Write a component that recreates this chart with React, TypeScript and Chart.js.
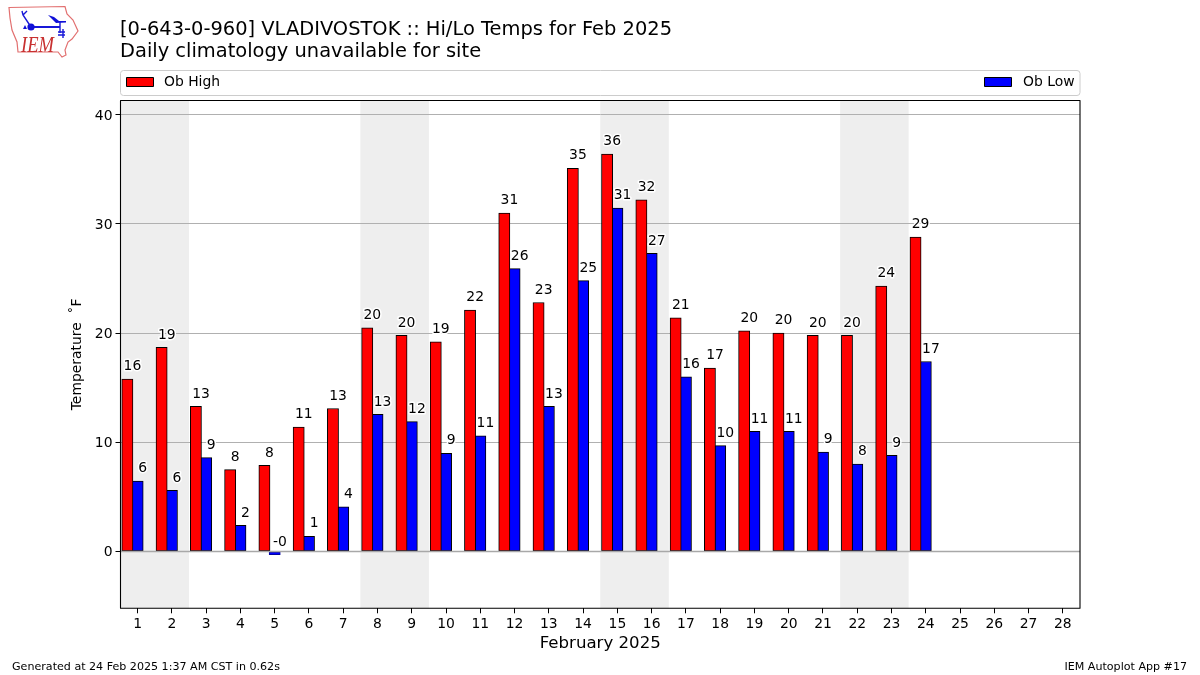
import React, { useEffect, useRef } from "react";
import { Chart, registerables } from "chart.js";

Chart.register(...registerables);

const days = [1, 2, 3, 4, 5, 6, 7, 8, 9, 10, 11, 12, 13, 14, 15, 16, 17, 18, 19, 20, 21, 22, 23, 24, 25, 26, 27, 28];
const obHigh = [15.8, 18.7, 13.3, 7.5, 7.9, 11.4, 13.1, 20.48, 19.8, 19.2, 22.1, 31.0, 22.8, 35.1, 36.4, 32.2, 21.4, 16.8, 20.2, 20.0, 19.8, 19.8, 24.3, 28.8];
const obLow = [6.45, 5.6, 8.6, 2.4, -0.3, 1.4, 4.1, 12.56, 11.9, 9.0, 10.6, 25.9, 13.3, 24.8, 31.46, 27.3, 16.0, 9.7, 11.0, 11.0, 9.1, 8.0, 8.8, 17.4];
const yTicks = [0, 10, 20, 30, 40];
const weekendBands = [[0.5, 2.5], [7.5, 9.5], [14.5, 16.5], [21.5, 23.5]];

const FONT = '"DejaVu Sans"';
const titleLine1 = "[0-643-0-960] VLADIVOSTOK :: Hi/Lo Temps for Feb 2025";
const titleLine2 = "Daily climatology unavailable for site";
const footerLeft = "Generated at 24 Feb 2025 1:37 AM CST in 0.62s";
const footerRight = "IEM Autoplot App #17";

const decorations = {
  id: "decorations",
  beforeDraw(chart: any) {
    const { ctx, chartArea: a, scales } = chart;
    ctx.save();
    ctx.fillStyle = "#eeeeee";
    for (const [from, to] of weekendBands) {
      const l = scales.x.getPixelForValue(from);
      const r = scales.x.getPixelForValue(to);
      ctx.fillRect(l, a.top, r - l, a.bottom - a.top);
    }
    ctx.restore();
  },
  afterDatasetsDraw(chart: any) {
    const { ctx, chartArea: a, scales } = chart;
    ctx.save();
    // Zero line sits over the bar bases
    const zero = scales.y.getPixelForValue(0);
    ctx.strokeStyle = "#a8a8a8";
    ctx.lineWidth = 1.6;
    ctx.beginPath();
    ctx.moveTo(a.left, zero);
    ctx.lineTo(a.right, zero);
    ctx.stroke();

    ctx.font = `13.9px ${FONT}`;
    ctx.textAlign = "center";
    ctx.textBaseline = "alphabetic";
    ctx.lineJoin = "round";
    chart.data.datasets.forEach((ds: any, i: number) => {
      chart.getDatasetMeta(i).data.forEach((bar: any, j: number) => {
        const v = ds.data[j].y;
        const text = v.toFixed(0);
        const x = bar.x + 5.1;
        const y = scales.y.getPixelForValue(v + 0.8);
        ctx.strokeStyle = "#ffffff";
        ctx.lineWidth = 3;
        ctx.strokeText(text, x, y);
        ctx.fillStyle = "#000000";
        ctx.fillText(text, x, y);
      });
    });
    ctx.strokeStyle = "#000000";
    ctx.lineWidth = 1.1;
    ctx.strokeRect(a.left, a.top, a.right - a.left, a.bottom - a.top);

    // Titles
    ctx.textAlign = "left";
    ctx.fillStyle = "#000000";
    ctx.font = `19.45px ${FONT}`;
    ctx.fillText(titleLine1, 120, 35);
    ctx.fillText(titleLine2, 120, 57);

    // Legend
    ctx.strokeStyle = "#cccccc";
    ctx.lineWidth = 1;
    ctx.beginPath();
    ctx.roundRect(120.5, 70.5, 959.5, 25, 3);
    ctx.fillStyle = "#ffffff";
    ctx.fill();
    ctx.stroke();
    const [hi, lo] = chart.data.datasets;
    ctx.font = `13.9px ${FONT}`;
    ctx.fillStyle = hi.backgroundColor;
    ctx.strokeStyle = "#000000";
    ctx.fillRect(126.5, 77.5, 27, 9);
    ctx.strokeRect(126.5, 77.5, 27, 9);
    ctx.fillStyle = "#000000";
    ctx.fillText(hi.label, 164, 86);
    ctx.fillStyle = lo.backgroundColor;
    ctx.fillRect(984.5, 77.5, 27, 9);
    ctx.strokeRect(984.5, 77.5, 27, 9);
    ctx.fillStyle = "#000000";
    ctx.textAlign = "right";
    ctx.fillText(lo.label, 1074.5, 86);

    // Footers
    ctx.font = `11.1px ${FONT}`;
    ctx.textAlign = "left";
    ctx.fillText(footerLeft, 12, 670);
    ctx.textAlign = "right";
    ctx.fillText(footerRight, 1187, 670);
    ctx.restore();
  },
};

function Logo() {
  return (
    <svg width={90} height={64} style={{ position: "absolute", left: 0, top: 0 }}>
      <path
        d="M9 7.5 L65 6.5 L67 14 L73 20 L78 31 L72 39 L68 42 L65 50 L66 55 L62 57 L58 52 L18 52 L17 42 L12 30 L10 18 Z"
        fill="none"
        stroke="#e27070"
        strokeWidth={1.2}
      />
      <g stroke="#1818d8" fill="#1010d8">
        <path d="M31 27 L60 27" strokeWidth={2} />
        <circle cx={31} cy={27} r={3.6} stroke="none" />
        <path d="M31 27 L23 15 L22 11 M23 15 L27 11" strokeWidth={1.4} fill="none" />
        <path d="M48 15 L54 17 L59 21 L66 21 L66 22.5 L56 23 Z" stroke="none" />
        <path d="M60 22 L60 33 M63 29 L63 38 M58 32 L65 32 M58 35 L65 35" strokeWidth={1.4} fill="none" />
        <path d="M25 25 L27 29 L23 29 Z" stroke="none" />
      </g>
      <text
        x={21}
        y={52}
        fontFamily='"Liberation Serif"'
        fontStyle="italic"
        fontSize={23}
        fill="#c83030"
        textLength={33}
        lengthAdjust="spacingAndGlyphs"
      >
        IEM
      </text>
    </svg>
  );
}

export default function App() {
  const ref = useRef<HTMLCanvasElement>(null);
  useEffect(() => {
    document.body.style.margin = "0";
    const chart = new Chart(ref.current as HTMLCanvasElement, {
      type: "bar",
      data: {
        datasets: [
          {
            label: "Ob High",
            data: obHigh.map((y, i) => ({ x: days[i] - 0.3, y })),
            backgroundColor: "#ff0000",
            borderColor: "#000000",
            borderWidth: 1,
            borderSkipped: false,
          },
          {
            label: "Ob Low",
            data: obLow.map((y, i) => ({ x: days[i], y })),
            backgroundColor: "#0000ff",
            borderColor: (c: any) => (c.raw && c.raw.y < 0 ? "#0000a0" : "#000000"),
            borderWidth: 1,
            borderSkipped: false,
          },
        ],
      } as any,
      options: {
        responsive: false,
        animation: false,
        devicePixelRatio: 1,
        layout: { padding: { left: 69.5, right: 120, top: 100.5, bottom: 21.7 } },
        datasets: { bar: { grouped: false, barThickness: 11.2 } },
        plugins: { legend: { display: false }, title: { display: false }, tooltip: { enabled: false } },
        scales: {
          x: {
            type: "linear",
            offset: false,
            min: 0.5,
            max: 28.5,
            afterBuildTicks: (s: any) => {
              s.ticks = days.map((value) => ({ value }));
            },
            afterFit: (s: any) => {
              s.height = 45;
            },
            grid: { display: true, offset: false, drawOnChartArea: false, drawTicks: true, tickLength: 5, tickColor: "#000000" },
            border: { display: false },
            ticks: {
              autoSkip: false,
              maxRotation: 0,
              padding: 3,
              color: "#000000",
              font: { family: FONT, size: 13.9 },
              callback: (v: any) => String(v),
            },
            title: {
              display: true,
              text: "February 2025",
              color: "#000000",
              font: { family: FONT, size: 16.6 },
              padding: { top: 4, bottom: 0 },
            },
          },
          y: {
            type: "linear",
            min: -5.2,
            max: 41.3,
            afterBuildTicks: (s: any) => {
              s.ticks = yTicks.map((value) => ({ value }));
            },
            afterFit: (s: any) => {
              s.width = 51;
            },
            grid: { color: "#b0b0b0", lineWidth: 1, drawTicks: true, tickLength: 5, tickColor: "#000000" },
            border: { display: false },
            ticks: {
              padding: 3,
              labelOffset: 1.2,
              color: "#000000",
              font: { family: FONT, size: 13.9 },
              callback: (v: any) => String(v),
            },
            title: {
              display: true,
              text: "Temperature  ˚F",
              color: "#000000",
              font: { family: FONT, size: 13.9 },
              padding: 0,
            },
          },
        },
      } as any,
      plugins: [decorations],
    });
    return () => chart.destroy();
  }, []);
  return (
    <div style={{ position: "relative", width: 1200, height: 675 }}>
      <canvas ref={ref} width={1200} height={675} style={{ position: "absolute", left: 0, top: 0 }} />
      <Logo />
    </div>
  );
}
